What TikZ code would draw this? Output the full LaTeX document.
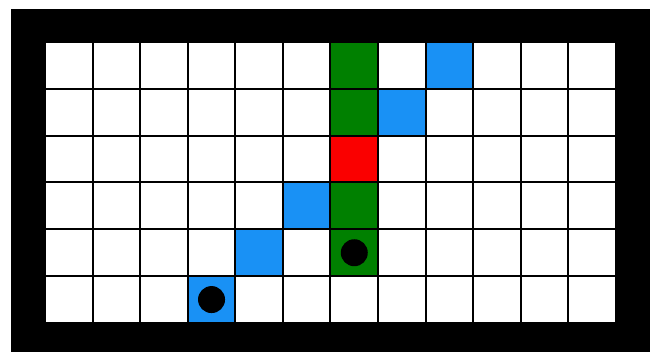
\documentclass[tikz,border=0pt]{standalone}
\usepackage{xcolor}
\usepackage{tikz}
\definecolor{cellgreen}{RGB}{0, 128, 0}
\definecolor{cellblue}{RGB}{25, 145, 245}
\definecolor{cellred}{RGB}{250, 0, 0}
\tikzset{
  gridcell/.style={
    draw=black,
    line width=2pt,
    fill=white,
    minimum width=47.58pt,
    minimum height=46.83pt,
    inner sep=0pt,
    outer sep=0pt
  },
  greencell/.style={gridcell, fill=cellgreen},
  bluecell/.style={gridcell, fill=cellblue},
  redcell/.style={gridcell, fill=cellred},
  dotmark/.style={
    circle,
    fill=black,
    minimum size=27pt,
    inner sep=0pt
  }
}

\begin{document}
\begin{tikzpicture}[x=1pt, y=-1pt]
  \useasboundingbox (0,0) rectangle (658,353);
  % black frame
  \fill[black] (11,9) rectangle (650,352);
  % white grid, 12 x 6
  \foreach \col in {0,...,11} {
    \foreach \row in {0,...,5} {
      \node[gridcell] (c\col-\row) at ({45+47.58*(\col+0.5)},{42+46.83*(\row+0.5)}) {};
    }
  }
  % column of green cells with the red one
  \node[greencell] (g0) at (c6-0) {};
  \node[greencell] (g1) at (c6-1) {};
  \node[redcell] (r2) at (c6-2) {};
  \node[greencell] (g3) at (c6-3) {};
  \node[greencell] (g4) at (c6-4) {};
  % diagonal of blue cells
  \node[bluecell] (b0) at (c8-0) {};
  \node[bluecell] (b1) at (c7-1) {};
  \node[bluecell] (b3) at (c5-3) {};
  \node[bluecell] (b4) at (c4-4) {};
  \node[bluecell] (b5) at (c3-5) {};
  % markers
  \node[dotmark] (dotg) at (g4) {};
  \node[dotmark] (dotb) at (b5) {};
\end{tikzpicture}
\end{document}
